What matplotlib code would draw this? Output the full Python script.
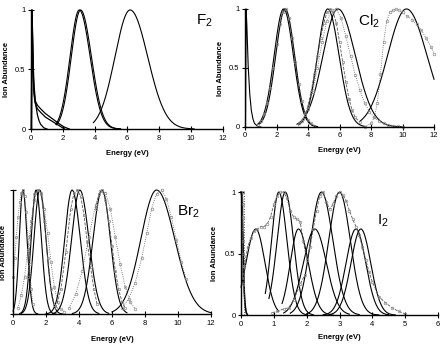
import numpy as np
import matplotlib.pyplot as plt

plt.rcParams['font.family'] = ['Liberation Sans', 'DejaVu Sans']
plt.rcParams['mathtext.fontset'] = 'custom'
plt.rcParams['mathtext.rm'] = 'Liberation Sans'

# fitted peaks: (centre, left width, right width, height, start, end)
f2_peaks = [(3.02, 0.58, 0.68, 1.0, 1.55, 5.6),
            (3.10, 0.58, 0.68, 1.0, 1.60, 5.6),
            (6.20, 0.95, 1.10, 1.0, 3.90, 10.2)]
cl2_peaks = [(2.45, 0.60, 0.62, 1.0, 0.8, 4.6),
             (2.55, 0.60, 0.60, 1.0, 0.9, 4.6),
             (5.25, 0.65, 0.72, 1.0, 3.4, 7.6),
             (5.90, 0.95, 1.10, 1.0, 3.3, 10.0),
             (10.25, 1.20, 1.30, 1.0, 7.3, 12.0)]
br2_peaks = [(0.60, 0.22, 0.25, 1.0, 0.0, 1.5),
             (1.40, 0.30, 0.32, 1.0, 0.4, 2.6),
             (1.62, 0.35, 0.38, 1.0, 0.5, 3.0),
             (3.58, 0.45, 0.50, 1.0, 2.0, 5.2),
             (4.05, 0.50, 0.55, 1.0, 2.4, 5.8),
             (5.40, 0.55, 0.50, 1.0, 3.6, 6.9),
             (8.70, 0.95, 1.10, 1.0, 6.0, 12.0)]
i2_peaks = [(0.45, 0.30, 0.28, 0.7, 0.0, 1.15),
            (1.15, 0.22, 0.25, 1.0, 0.74, 2.0),
            (1.35, 0.25, 0.25, 1.0, 0.85, 2.2),
            (1.75, 0.25, 0.30, 0.7, 1.25, 2.8),
            (2.25, 0.35, 0.35, 0.7, 1.3, 3.3),
            (2.45, 0.33, 0.35, 1.0, 1.5, 3.6),
            (3.00, 0.33, 0.33, 1.0, 2.0, 4.2),
            (3.50, 0.30, 0.30, 0.7, 2.5, 4.5),
            (3.65, 0.30, 0.30, 0.7, 2.7, 4.7)]

# low energy spikes
f2_spike1_x = [0.02, 0.05, 0.08, 0.12, 0.17, 0.25, 0.4, 0.6, 0.9, 1.2, 1.5, 1.8, 2.1, 2.4]
f2_spike1_y = [0.0, 1.0, 0.85, 0.55, 0.35, 0.24, 0.2, 0.17, 0.13, 0.1, 0.07, 0.04, 0.015, 0.0]
f2_spike2_x = [0.03, 0.06, 0.09, 0.13, 0.18, 0.25, 0.4, 0.6, 0.9, 1.2, 1.5, 1.8, 2.1]
f2_spike2_y = [0.0, 1.0, 0.8, 0.5, 0.3, 0.22, 0.17, 0.14, 0.1, 0.075, 0.05, 0.025, 0.0]
f2_spike3_x = [0.03, 0.06, 0.1, 0.15, 0.2, 0.3, 0.4, 0.5, 0.6, 0.8, 1.0]
f2_spike3_y = [0.0, 1.0, 0.8, 0.5, 0.35, 0.2, 0.12, 0.07, 0.04, 0.01, 0.0]

cl2_spike_x = [0.03, 0.07, 0.12, 0.2, 0.3, 0.4, 0.5, 0.6, 0.8, 1.0]
cl2_spike_y = [0.0, 1.0, 0.85, 0.52, 0.28, 0.14, 0.07, 0.03, 0.005, 0.0]

i2_spike_x = [0.0, 0.02, 0.04, 0.06, 0.08, 0.1, 0.13, 0.16, 0.2]
i2_spike_y = [1.0, 0.98, 0.85, 0.6, 0.35, 0.18, 0.07, 0.02, 0.0]

# measured distributions
cl2_a_x = [0.8, 1.0, 1.2, 1.4, 1.6, 1.8, 2.0, 2.2, 2.4, 2.6, 2.8, 3.0, 3.2, 3.4, 3.6, 3.8, 4.0, 4.2, 4.4]
cl2_a_y = [0.02, 0.05, 0.11, 0.2, 0.33, 0.5, 0.7, 0.87, 0.97, 1.0, 0.92, 0.75, 0.55, 0.36, 0.22, 0.12, 0.06, 0.03, 0.01]
cl2_b_x = [3.6, 3.8, 4.0, 4.2, 4.4, 4.6, 4.8, 5.0, 5.2, 5.4, 5.6, 5.8, 6.0, 6.2, 6.4, 6.6, 6.8, 7.0, 7.3]
cl2_b_y = [0.05, 0.1, 0.18, 0.3, 0.45, 0.6, 0.75, 0.88, 0.97, 1.0, 0.97, 0.88, 0.72, 0.55, 0.38, 0.24, 0.14, 0.08, 0.04]
cl2_c_x = [3.4, 3.7, 4.0, 4.3, 4.6, 4.9, 5.2, 5.5, 5.8, 6.1, 6.4, 6.7, 7.0, 7.3, 7.6, 7.9, 8.2, 8.5, 8.8, 9.1, 9.4, 9.7, 10.0]
cl2_c_y = [0.03, 0.07, 0.15, 0.3, 0.5, 0.72, 0.9, 0.99, 1.0, 0.92, 0.77, 0.6, 0.44, 0.31, 0.2, 0.13, 0.08, 0.05, 0.03, 0.02, 0.01, 0.005, 0.0]
cl2_d_x = [7.6, 8.0, 8.2, 8.4, 8.6, 8.8, 9.0, 9.2, 9.4, 9.6, 9.8, 10.0, 10.3, 10.6, 10.9, 11.2, 11.5, 11.8, 12.0]
cl2_d_y = [0.0, 0.03, 0.08, 0.2, 0.45, 0.72, 0.9, 0.97, 0.99, 1.0, 0.99, 0.97, 0.94, 0.91, 0.87, 0.82, 0.75, 0.68, 0.62]

br2_a_x = [0.0, 0.1, 0.2, 0.3, 0.4, 0.5, 0.6, 0.7, 0.8, 0.9, 1.0, 1.1, 1.2]
br2_a_y = [0.3, 0.45, 0.62, 0.78, 0.9, 0.98, 1.0, 0.95, 0.82, 0.62, 0.4, 0.2, 0.08]
br2_b_x = [0.3, 0.5, 0.7, 0.9, 1.1, 1.3, 1.5, 1.7, 1.9, 2.1, 2.3, 2.5, 2.7, 2.9, 3.1]
br2_b_y = [0.05, 0.15, 0.3, 0.52, 0.75, 0.92, 1.0, 0.97, 0.85, 0.65, 0.42, 0.22, 0.1, 0.04, 0.02]
br2_c_x = [0.9, 1.1, 1.3, 1.5, 1.7, 1.9, 2.1, 2.3, 2.5]
br2_c_y = [0.3, 0.7, 0.97, 1.0, 0.98, 0.75, 0.45, 0.2, 0.07]
br2_d_x = [2.6, 2.9, 3.2, 3.5, 3.7, 3.9, 4.1, 4.3, 4.5, 4.7, 4.9, 5.1]
br2_d_y = [0.05, 0.2, 0.5, 0.85, 0.98, 1.0, 0.95, 0.8, 0.58, 0.38, 0.2, 0.08]
br2_e_x = [3.4, 3.8, 4.2, 4.6, 5.0, 5.3, 5.6, 5.9, 6.2, 6.5, 6.8, 7.1, 7.4]
br2_e_y = [0.05, 0.16, 0.35, 0.62, 0.88, 0.99, 0.98, 0.85, 0.62, 0.4, 0.22, 0.1, 0.04]
br2_f_x = [5.0, 5.2, 5.4, 5.6, 5.8, 6.0, 6.2, 6.4, 6.6, 6.8]
br2_f_y = [0.85, 0.97, 1.0, 0.92, 0.75, 0.55, 0.35, 0.2, 0.1, 0.05]
br2_g_x = [6.6, 7.0, 7.4, 7.8, 8.1, 8.4, 8.7, 9.0, 9.3, 9.6, 9.9, 10.2, 10.5]
br2_g_y = [0.05, 0.12, 0.25, 0.45, 0.65, 0.85, 0.97, 1.0, 0.93, 0.78, 0.6, 0.42, 0.28]

i2_a_x = [0.05, 0.1, 0.2, 0.3, 0.4, 0.5, 0.6, 0.7, 0.8, 0.9, 1.0, 1.1, 1.2, 1.3, 1.4, 1.5, 1.6, 1.7, 1.8,
          1.9, 2.0, 2.1, 2.2, 2.3, 2.4, 2.5, 2.6, 2.7, 2.8, 2.9, 3.0, 3.1, 3.2, 3.3, 3.4, 3.5, 3.6, 3.7,
          3.8, 3.9, 4.0, 4.2, 4.4, 4.6, 4.8, 5.0]
i2_a_y = [0.25, 0.4, 0.55, 0.63, 0.68, 0.7, 0.72, 0.72, 0.74, 0.8, 0.9, 0.97, 1.0, 1.0, 0.95, 0.85, 0.8, 0.78, 0.76,
          0.6, 0.45, 0.55, 0.7, 0.85, 0.97, 1.0, 0.92, 0.86, 0.9, 0.97, 1.0, 0.98, 0.93, 0.85, 0.78, 0.72, 0.65, 0.55,
          0.45, 0.35, 0.27, 0.15, 0.1, 0.06, 0.03, 0.01]
i2_b_x = [0.95, 1.1, 1.3, 1.45, 1.6, 1.8, 1.95]
i2_b_y = [0.02, 0.03, 0.05, 0.06, 0.12, 0.25, 0.33]
i2_c_x = [0.04, 0.05, 0.06, 0.05, 0.04, 0.05, 0.06, 0.05]
i2_c_y = [0.3, 0.4, 0.5, 0.6, 0.7, 0.8, 0.9, 1.0]

GREY = '0.55'


def draw_peaks(ax, peaks):
    for c, wl, wr, h, lo, hi in peaks:
        x = np.linspace(lo, hi, 300)
        w = np.where(x < c, wl, wr)
        ax.plot(x, h * np.exp(-0.5 * ((x - c) / w) ** 2), color='k', lw=0.8, clip_on=False)


def draw_meas(ax, x, y, ls, marker):
    ax.plot(x, y, color='0.35', ls=ls, lw=0.6, marker=marker, ms=1.9,
            mfc='none', mec=GREY, mew=0.5, clip_on=False)


def style_axes(ax, xmax, ylab_x, xlab_y, ylabels=True):
    ax.set_xlim(0, xmax)
    ax.set_ylim(0, 1)
    for s in ('top', 'right'):
        ax.spines[s].set_visible(False)
    for s in ('left', 'bottom'):
        ax.spines[s].set_linewidth(1.0)
    ax.set_xticks(range(0, xmax + 1, 2 if xmax > 6 else 1))
    ax.tick_params(direction='inout', length=4, width=0.8, labelsize=5.5, pad=2)
    if ylabels:
        ax.set_yticks([0, 0.5, 1])
        ax.set_yticklabels(['0', '0.5', '1'])
    else:
        ax.set_yticks([0, 1])
        ax.set_yticklabels([])
    ax.set_xlabel('Energy (eV)', fontsize=5.5, fontweight='bold')
    ax.set_ylabel('Ion Abundance', fontsize=5.5, fontweight='bold')
    ax.yaxis.set_label_coords(ylab_x, 0.5)
    ax.xaxis.set_label_coords(0.5, xlab_y)


fig = plt.figure(figsize=(4.41, 3.44), dpi=100)

ax1 = fig.add_axes([0.0703, 0.625, 0.435, 0.346])
ax2 = fig.add_axes([0.5556, 0.631, 0.4286, 0.343])
ax3 = fig.add_axes([0.0295, 0.087, 0.449, 0.3605])
ax4 = fig.add_axes([0.5465, 0.084, 0.4467, 0.3576])

# F2
draw_peaks(ax1, f2_peaks)
for xs, ys in [(f2_spike1_x, f2_spike1_y), (f2_spike2_x, f2_spike2_y), (f2_spike3_x, f2_spike3_y)]:
    ax1.plot(xs, ys, color='k', lw=0.9, clip_on=False)
style_axes(ax1, 12, -0.11, -0.18)
ax1.text(0.86, 0.88, r'F$_\mathrm{2}$', transform=ax1.transAxes, fontsize=11)

# Cl2
draw_peaks(ax2, cl2_peaks)
ax2.plot(cl2_spike_x, cl2_spike_y, color='k', lw=0.8, clip_on=False)
draw_meas(ax2, cl2_a_x, cl2_a_y, ':', 'o')
draw_meas(ax2, cl2_b_x, cl2_b_y, '--', 's')
draw_meas(ax2, cl2_c_x, cl2_c_y, ':', 'o')
draw_meas(ax2, cl2_d_x, cl2_d_y, ':', 'o')
style_axes(ax2, 12, -0.11, -0.17)
ax2.text(0.6, 0.86, r'Cl$_\mathrm{2}$', transform=ax2.transAxes, fontsize=11)

# Br2
draw_peaks(ax3, br2_peaks)
draw_meas(ax3, br2_a_x, br2_a_y, ':', 's')
draw_meas(ax3, br2_b_x, br2_b_y, ':', 'o')
draw_meas(ax3, br2_c_x, br2_c_y, '--', 's')
draw_meas(ax3, br2_d_x, br2_d_y, '--', 's')
draw_meas(ax3, br2_e_x, br2_e_y, ':', 'o')
draw_meas(ax3, br2_f_x, br2_f_y, '--', 's')
draw_meas(ax3, br2_g_x, br2_g_y, ':', 'o')
style_axes(ax3, 12, -0.03, -0.175, ylabels=False)
ax3.text(0.83, 0.8, r'Br$_\mathrm{2}$', transform=ax3.transAxes, fontsize=11)

# I2
draw_peaks(ax4, i2_peaks)
ax4.plot(i2_spike_x, i2_spike_y, color='k', lw=1.2, clip_on=False)
ax4.plot([0.1, 0.1], [0, 1], color='0.3', ls=':', lw=0.7)
draw_meas(ax4, i2_c_x, i2_c_y, '-', 's')
draw_meas(ax4, i2_a_x, i2_a_y, '--', 'o')
draw_meas(ax4, i2_b_x, i2_b_y, '--', 's')
style_axes(ax4, 6, -0.117, -0.155)
ax4.text(0.69, 0.74, r'I$_\mathrm{2}$', transform=ax4.transAxes, fontsize=11)

fig.savefig('out.png', dpi=100)
